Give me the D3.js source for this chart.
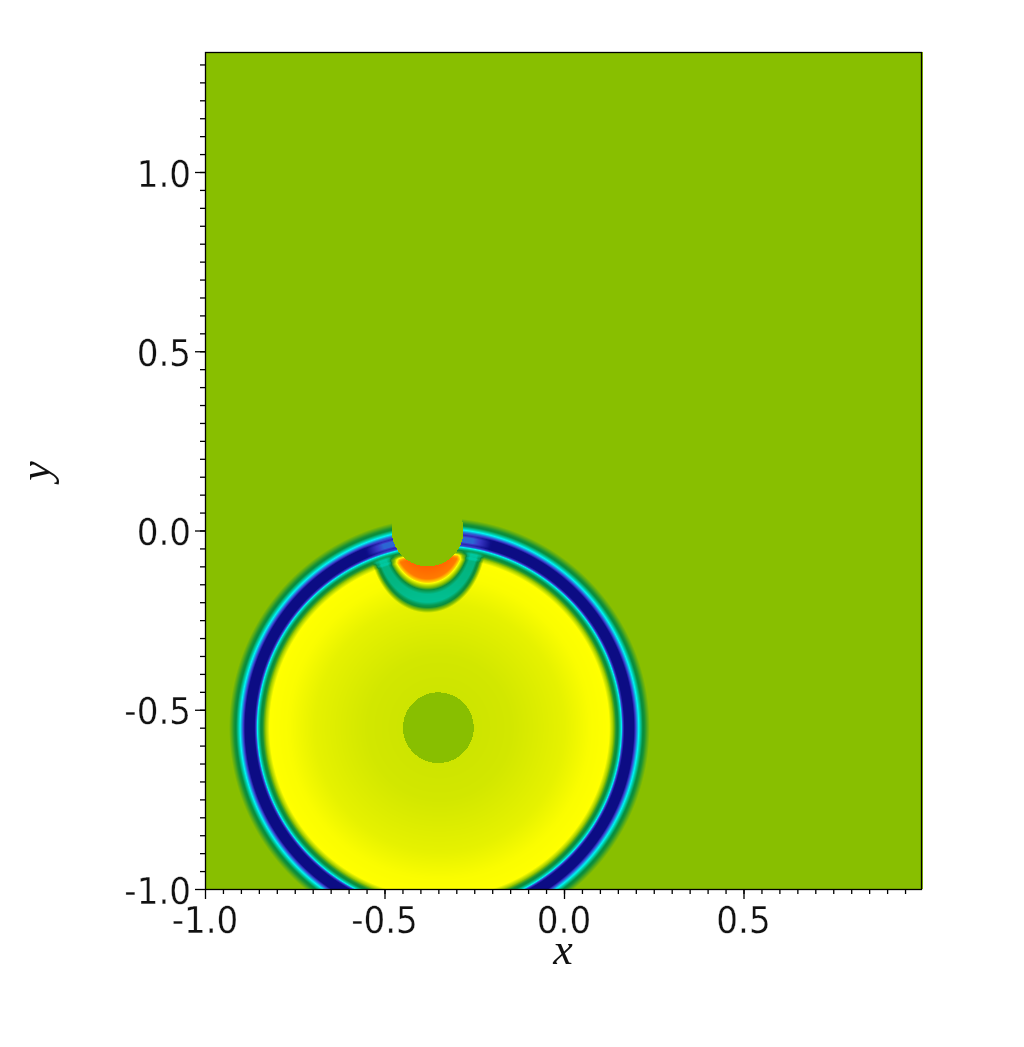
<!DOCTYPE html>
<html>
<head>
<meta charset="utf-8">
<script src="https://cdn.jsdelivr.net/npm/d3@7"></script>
<style>
  html, body { margin: 0; background: #fff; }
  #chart { position: relative; width: 1024px; height: 1047px; }
  #chart canvas, #chart svg { position: absolute; }
  #chart svg { left: 0; top: 0; }
  .tickLabel { font-family: "DejaVu Sans"; font-stretch: condensed; font-size: 38px; fill: #111; stroke: #fff; stroke-width: 0.3px; paint-order: fill; }
  .axisTitle { font-family: "Liberation Serif"; font-style: italic; font-size: 44px; fill: #111; }
</style>
</head>
<body>
<div id="chart"></div>
<script>
// axis labels and ticks
const xMajorTicks = [-1, -0.5, 0, 0.5];
const xLabels = ["-1.0", "-0.5", "0.0", "0.5"];
const yMajorTicks = [-1, -0.5, 0, 0.5, 1];
const yLabels = ["-1.0", "-0.5", "0.0", "0.5", "1.0"];
const xMinorTicks = d3.range(-19, 20).map(i => i * 0.05);
const yMinorTicks = d3.range(-19, 27).map(i => i * 0.05);

// colormap
const colourLevels = [0, 0.03, 0.12, 0.26, 0.33, 0.45, 0.6, 0.72, 0.85, 1];
const colours = ["#0b0b80", "#0d0d88", "#3a38c8", "#00f5f5", "#00c8a0", "#0a8c3c", "#88bf00", "#ffff00", "#ff8000", "#ff4000"];

// main circular front: level against distance from its centre
const frontCentre = [-0.347, -0.55];
const frontRadii = [0, 0.0975, 0.2, 0.348, 0.42, 0.473, 0.484, 0.492, 0.498, 0.503, 0.507, 0.511, 0.516, 0.541, 0.546, 0.555, 0.56, 0.566, 0.572, 0.578, 0.586];
const frontLevels = [0.665, 0.67, 0.675, 0.695, 0.715, 0.72, 0.62, 0.47, 0.44, 0.34, 0.26, 0.12, 0.015, 0.015, 0.12, 0.26, 0.33, 0.44, 0.47, 0.53, 0.6];

// wave reflected from the upper cylinder: change in level against distance
const reflectRadii = [0.1, 0.134, 0.145, 0.148, 0.159, 0.167, 0.178, 0.2, 0.209, 0.214, 0.22, 0.23];
const reflectChange = [0.2, 0.15, 0.05, 0, -0.12, -0.27, -0.35, -0.35, -0.27, -0.25, -0.14, 0];
const reflectMaskRadii = [0, 0.48, 0.5];
const reflectMaskValues = [1, 1, 0];

// lighter patches of the ring beside the upper cylinder
const liftRadii = [0.1, 0.13, 0.15, 0.185];
const liftValues = [0.14, 0.14, 0.1, 0];
const liftMaskRadii = [0.51, 0.522, 0.535, 0.548];
const liftMaskValues = [0, 1, 1, 0];

// cylinders cut out of the field
const cylinders = [
  { cx: -0.35, cy: -0.55, r: 0.0985 },
  { cx: -0.38, cy: 0.0, r: 0.1 }
];
const backgroundLevel = 0.6;

const plotLeft = 205, plotRight = 923, plotTop = 52, plotBottom = 889;
const plotWidth = plotRight - plotLeft, plotHeight = plotBottom - plotTop;

const x = d3.scaleLinear().domain([-1, 1]).range([plotLeft, plotLeft + 718]);
const y = d3.scaleLinear().domain([-1, 1]).range([plotBottom, plotBottom - 717]);
const colour = d3.scaleLinear().domain(colourLevels).range(colours).clamp(true);
const front = d3.scaleLinear().domain(frontRadii).range(frontLevels).clamp(true);
const reflect = d3.scaleLinear().domain(reflectRadii).range(reflectChange).clamp(true);
const reflectMask = d3.scaleLinear().domain(reflectMaskRadii).range(reflectMaskValues).clamp(true);
const lift = d3.scaleLinear().domain(liftRadii).range(liftValues).clamp(true);
const liftMask = d3.scaleLinear().domain(liftMaskRadii).range(liftMaskValues).clamp(true);

function levelAt(px, py) {
  for (const c of cylinders) {
    if (Math.hypot(px - c.cx, py - c.cy) < c.r) return backgroundLevel;
  }
  const r = Math.hypot(px - frontCentre[0], py - frontCentre[1]);
  const base = front(r);
  let level = base;
  const dx = px - cylinders[1].cx, dy = py - cylinders[1].cy;
  const d = Math.hypot(dx, dy);
  if (d < 0.3 && dy < 0.02) {
    const sideways = (dx * dx) / (d * d);
    const change = reflect(d * (1 + 0.38 * sideways)) * reflectMask(r);
    level = Math.max(base + change, Math.min(base, 0.33));
    level += lift(d) * liftMask(r);
  }
  return level;
}

const chart = d3.select("#chart");
const canvas = chart.append("canvas")
  .attr("width", plotWidth)
  .attr("height", plotHeight)
  .style("left", plotLeft + "px")
  .style("top", plotTop + "px");

const ctx = canvas.node().getContext("2d");
const image = ctx.createImageData(plotWidth, plotHeight);
for (let j = 0; j < plotHeight; j++) {
  for (let i = 0; i < plotWidth; i++) {
    const c = d3.rgb(colour(levelAt(x.invert(plotLeft + i + 0.5), y.invert(plotTop + j + 0.5))));
    const k = (j * plotWidth + i) * 4;
    image.data[k] = c.r;
    image.data[k + 1] = c.g;
    image.data[k + 2] = c.b;
    image.data[k + 3] = 255;
  }
}
ctx.putImageData(image, 0, 0);

const svg = chart.append("svg").attr("width", 1024).attr("height", 1047);

svg.append("rect")
  .attr("x", plotLeft + 0.5)
  .attr("y", plotTop + 0.5)
  .attr("width", 716)
  .attr("height", plotHeight)
  .attr("fill", "none")
  .attr("stroke", "#000")
  .attr("stroke-width", 1.3);

function addAxis(axis, transform) {
  const g = svg.append("g").attr("transform", transform).call(axis);
  g.select(".domain").remove();
  g.selectAll(".tick text").remove();
  g.selectAll(".tick line").attr("stroke", "#000").attr("stroke-width", 1.3);
}

addAxis(d3.axisBottom(x).tickValues(xMajorTicks).tickSize(10), `translate(0,${plotBottom})`);
addAxis(d3.axisBottom(x).tickValues(xMinorTicks).tickSize(5), `translate(0,${plotBottom})`);
addAxis(d3.axisLeft(y).tickValues(yMajorTicks).tickSize(10), `translate(${plotLeft},0)`);
addAxis(d3.axisLeft(y).tickValues(yMinorTicks).tickSize(5), `translate(${plotLeft},0)`);

svg.selectAll(".xLabel").data(xMajorTicks).join("text")
  .attr("class", "tickLabel xLabel")
  .attr("x", d => x(d))
  .attr("y", plotBottom + 44)
  .attr("text-anchor", "middle")
  .text((d, i) => xLabels[i]);

svg.selectAll(".yLabel").data(yMajorTicks).join("text")
  .attr("class", "tickLabel yLabel")
  .attr("x", plotLeft - 14)
  .attr("y", d => y(d) + 14.5)
  .attr("text-anchor", "end")
  .text((d, i) => yLabels[i]);

svg.append("text")
  .attr("class", "axisTitle")
  .attr("x", 563)
  .attr("y", 964)
  .attr("text-anchor", "middle")
  .text("x");

svg.append("text")
  .attr("class", "axisTitle")
  .attr("transform", "translate(50,471) rotate(-90)")
  .attr("text-anchor", "middle")
  .text("y");
</script>
</body>
</html>
